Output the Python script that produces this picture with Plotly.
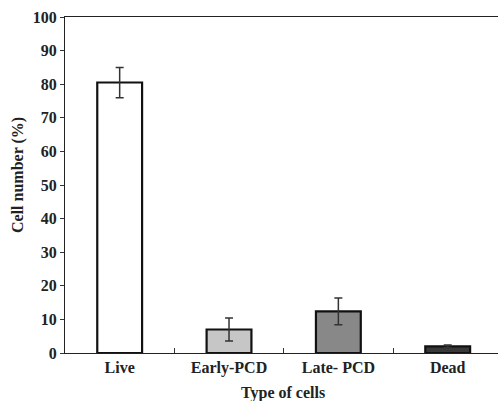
import plotly.graph_objects as go

categories = ["Live", "Early-PCD", "Late- PCD", "Dead"]
values = [80.5, 7.0, 12.4, 2.0]
errors = [4.5, 3.4, 4.0, 0.4]
colors = ["#ffffff", "#c6c6c6", "#888888", "#383838"]
y_ticks = list(range(0, 101, 10))

FF = "Liberation Serif, Times New Roman, serif"

fig = go.Figure(go.Bar(
    x=categories, y=values,
    width=0.41,
    marker=dict(color=colors, line=dict(color="#111111", width=2.2)),
    error_y=dict(type="data", array=errors, visible=True, color="#333333",
                 thickness=1.5, width=4),
))

fig.update_layout(
    width=498, height=401,
    margin=dict(l=65, r=0, t=17, b=48),
    paper_bgcolor="white", plot_bgcolor="white",
    showlegend=False,
    font=dict(family=FF, size=16, color="#222222"),
    xaxis=dict(
        range=[-0.5, 3.46], automargin=False,
        showline=True, linecolor="#222222", linewidth=1.3, mirror=True,
        ticks="inside", ticklen=5, tickwidth=1.2, tickcolor="#333333",
        tickson="boundaries",
        tickfont=dict(family=FF, size=16, color="#222222", weight="bold"),
        showgrid=False, zeroline=False,
    ),
    yaxis=dict(
        range=[0, 100], automargin=False,
        tickvals=y_ticks,
        showline=True, linecolor="#222222", linewidth=1.3,
        ticks="outside", ticklen=4, tickwidth=1.2, tickcolor="#333333",
        tickfont=dict(family=FF, size=16, color="#222222", weight="bold"),
        showgrid=False, zeroline=False,
    ),
    annotations=[
        dict(text="<b>Type of cells</b>", xref="paper", yref="paper",
             x=(283 - 65) / 433, y=(353 - 393) / 336, showarrow=False,
             xanchor="center", yanchor="middle",
             font=dict(family=FF, size=16, color="#222222")),
        dict(text="<b>Cell number (%)</b>", xref="paper", yref="paper",
             x=(18 - 65) / 433, y=(353 - 175) / 336, showarrow=False, textangle=-90,
             xanchor="center", yanchor="middle",
             font=dict(family=FF, size=16, color="#222222")),
    ],
)

fig.write_html("out.html",
               config={"displayModeBar": False},
               post_script="document.body.style.margin='0';document.body.style.overflow='hidden';")
